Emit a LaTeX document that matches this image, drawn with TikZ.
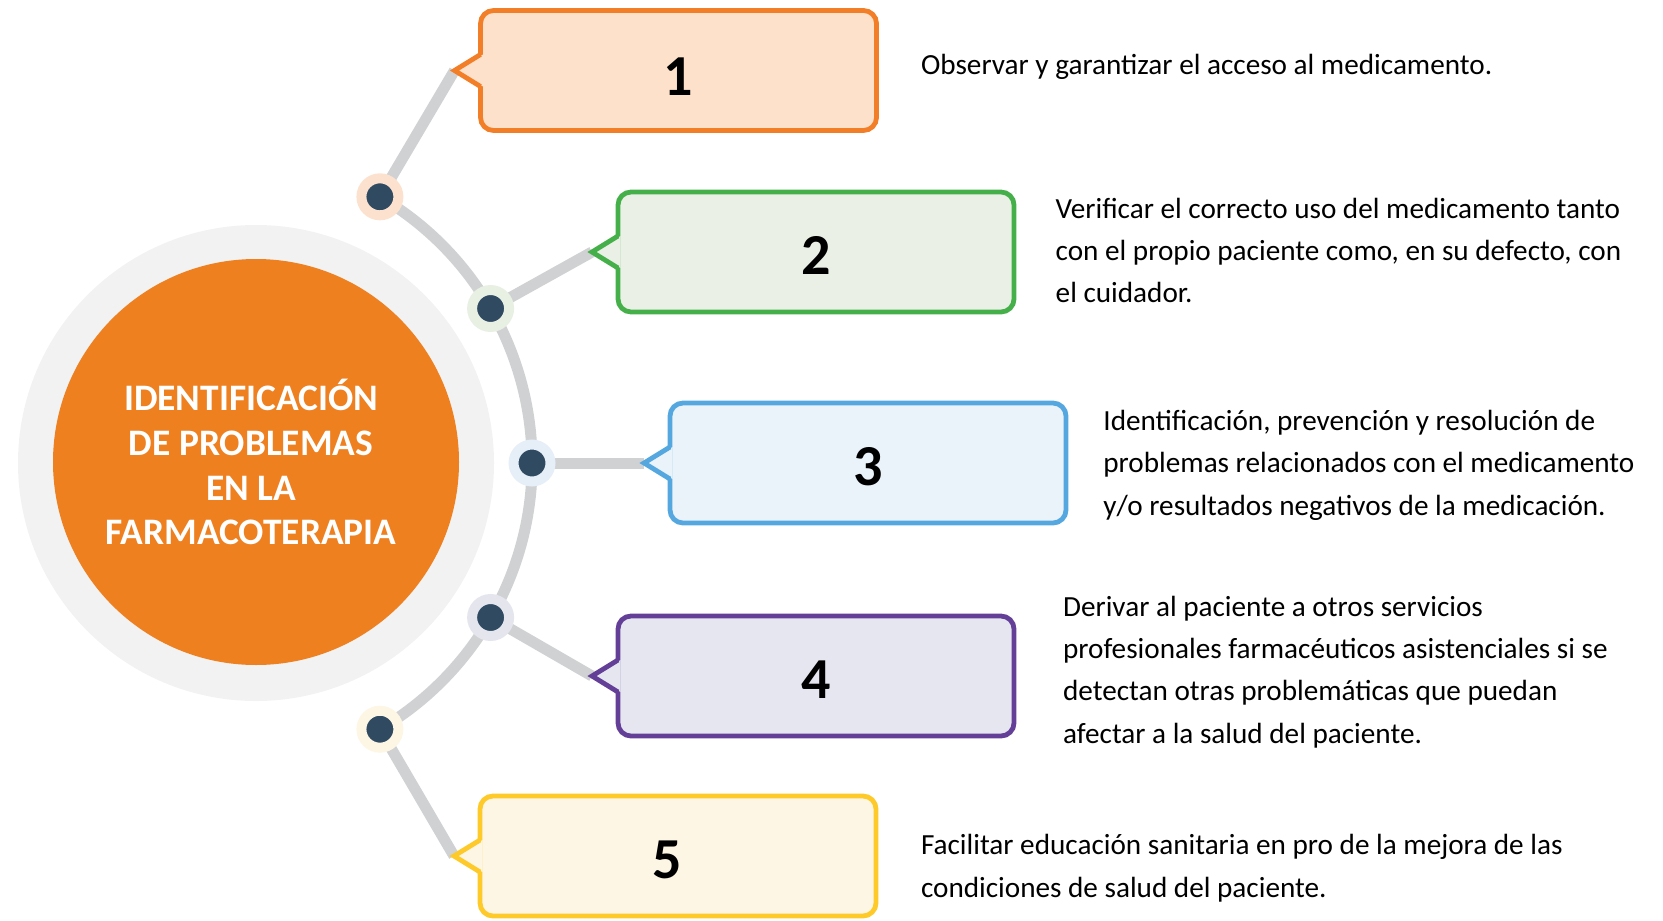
\documentclass[tikz,border=0pt]{standalone}
\usepackage{fontspec}
\setmainfont{Carlito}
\definecolor{ringgrey}{HTML}{F2F2F2}
\definecolor{coreorange}{HTML}{EE8020}
\definecolor{trackgrey}{HTML}{D0D1D3}
\definecolor{dotblue}{HTML}{2F4A61}
\definecolor{boxline1}{HTML}{F27F28}
\definecolor{boxfill1}{HTML}{FDE1CB}
\definecolor{boxline2}{HTML}{45B04A}
\definecolor{boxfill2}{HTML}{EAF0E5}
\definecolor{boxline3}{HTML}{55A7DF}
\definecolor{boxfill3}{HTML}{EAF2FA}
\definecolor{boxline4}{HTML}{643F98}
\definecolor{boxfill4}{HTML}{E6E6F0}
\definecolor{boxline5}{HTML}{FDCA2A}
\definecolor{boxfill5}{HTML}{FDF6E4}
\definecolor{halo1}{HTML}{FCE2CE}
\definecolor{halo2}{HTML}{E8F0E4}
\definecolor{halo3}{HTML}{E6EFF8}
\definecolor{halo4}{HTML}{E5E5EE}
\definecolor{halo5}{HTML}{FDF6E5}
\pgfdeclarelayer{bg}
\pgfsetlayers{bg,main}
\begin{document}
\begin{tikzpicture}[x=0.5pt,y=-0.5pt,
  stepbox/.style={rectangle, rounded corners=6.5pt, minimum width=198pt, minimum height=60pt,
    line width=2.4pt, outer sep=0pt, inner sep=0pt, draw=boxline#1, fill=boxfill#1,
    text height=22.7pt, text depth=0pt,
    font=\fontsize{29}{30}\selectfont\bfseries},
  dotnode/.style={circle, fill=dotblue, draw=halo#1, line width=5pt, minimum size=18.5pt, inner sep=0pt},
  track/.style={draw=trackgrey, line width=5.5pt},
  desc/.style={anchor=west, align=left, inner sep=0pt, font=\fontsize{14.6}{21.2}\selectfont},
]
\useasboundingbox (0,0) rectangle (1663,920);

% central disc
\node[circle, fill=ringgrey, minimum size=238pt, inner sep=0pt] (ring) at (256,463) {};
\node[circle, fill=coreorange, minimum size=203pt, inner sep=0pt] (core) at (256,462) {};
\node[align=center, text=white, inner sep=0pt, font=\fontsize{18.7}{22.45}\selectfont\bfseries] (title) at (251,462)
  {IDENTIFICACIÓN\\DE PROBLEMAS\\EN LA\\FARMACOTERAPIA};

% boxes
\node[stepbox=1, text height=24.7pt] (b1) at (678.5,70.5) {1};
\node[stepbox=2] (b2) at (816,252) {2};
\node[stepbox=3] (b3) at (868,463) {3};
\node[stepbox=4] (b4) at (816,676) {4};
\node[stepbox=5] (b5) at (678,856) {\hspace{-11pt}5};

\foreach \i in {1,...,5}{
  \coordinate (t\i) at ([xshift=-13pt]b\i.west);
  \fill[boxfill\i] (t\i) -- ([shift={(1.3pt,8pt)}]b\i.west) -- ([shift={(1.3pt,-8pt)}]b\i.west) -- cycle;
  \draw[boxline\i, line width=2.4pt, line join=miter] ([yshift=8pt]b\i.west) -- (t\i) -- ([yshift=-8pt]b\i.west);
}

% dots
\node[dotnode=1] (d1) at (379.9,196.8) {};
\node[dotnode=2] (d2) at (490.6,308.5) {};
\node[dotnode=3] (d3) at (532,463) {};
\node[dotnode=4] (d4) at (490.6,617.5) {};
\node[dotnode=5] (d5) at (379.9,729.2) {};

% track and connectors
\begin{pgfonlayer}{bg}
  \draw[track] (d1.center) arc[start angle=-59.5, end angle=59.5, radius=309];
  \foreach \i in {1,...,5}{
    \draw[track] (d\i.center) -- (t\i);
  }
\end{pgfonlayer}

% descriptions
\node[desc] (x1) at (920.6,67) {Observar y garantizar el acceso al medicamento.};
\node[desc] (x2) at (1055.3,250.5) {Verificar el correcto uso del medicamento tanto\\con el propio paciente como, en su defecto, con\\el cuidador.};
\node[desc] (x3) at (1103,465.2) {Identificación, prevención y resolución de\\problemas relacionados con el medicamento\\y/o resultados negativos de la medicación.};
\node[desc] (x4) at (1062.7,672) {Derivar al paciente a otros servicios\\profesionales farmacéuticos asistenciales si se\\detectan otras problemáticas que puedan\\afectar a la salud del paciente.};
\node[desc] (x5) at (920.6,868.2) {Facilitar educación sanitaria en pro de la mejora de las\\condiciones de salud del paciente.};
\end{tikzpicture}
\end{document}
